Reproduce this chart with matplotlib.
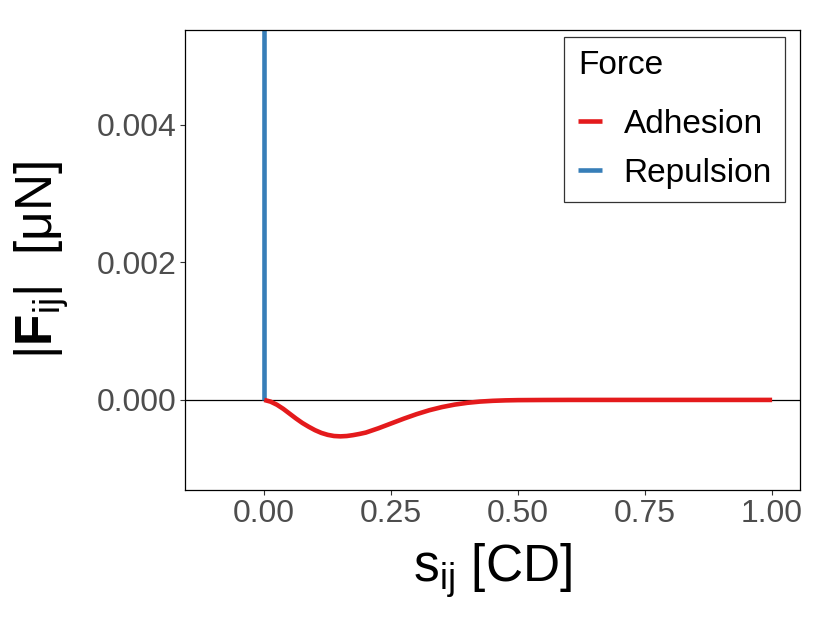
import matplotlib
matplotlib.use("Agg")
import matplotlib.pyplot as plt

plt.rcParams['font.family'] = ['Liberation Sans', 'DejaVu Sans']
plt.rcParams['mathtext.fontset'] = 'custom'
plt.rcParams['mathtext.rm'] = 'Liberation Sans'
plt.rcParams['mathtext.it'] = 'Liberation Sans:italic'
plt.rcParams['mathtext.bf'] = 'Liberation Sans:bold'

# adhesion force
adh_x = [0.0, 0.0125, 0.025, 0.0375, 0.05, 0.0625, 0.075, 0.0875, 0.1,
         0.1125, 0.125, 0.1375, 0.15, 0.1625, 0.175, 0.1875, 0.2, 0.225,
         0.25, 0.275, 0.3, 0.325, 0.35, 0.375, 0.4, 0.425, 0.45, 0.475,
         0.5, 0.55, 0.6, 0.7, 0.8, 0.9, 1.0]
adh_y = [0.0, -0.25e-4, -0.7e-4, -1.3e-4, -2.0e-4, -2.7e-4, -3.35e-4,
         -3.9e-4, -4.4e-4, -4.8e-4, -5.08e-4, -5.25e-4, -5.3e-4, -5.25e-4,
         -5.12e-4, -4.95e-4, -4.75e-4, -4.12e-4, -3.42e-4, -2.72e-4,
         -2.07e-4, -1.5e-4, -1.04e-4, -6.8e-5, -4.2e-5, -2.4e-5, -1.3e-5,
         -6.5e-6, -3e-6, -1e-6, 0.0, 0.0, 0.0, 0.0, 0.0]

# repulsion shoots up at contact
rep_x = [0.0, 0.0]
rep_y = [0.0, 0.008]

x_ticks = [0.0, 0.25, 0.5, 0.75, 1.0]
x_ticklabels = ["0.00", "0.25", "0.50", "0.75", "1.00"]
y_ticks = [0.0, 0.002, 0.004]
y_ticklabels = ["0.000", "0.002", "0.004"]

red = "#E41A1C"
blue = "#377EB8"

fig = plt.figure(figsize=(8.3, 6.23), dpi=100)
ax = fig.add_axes([0.2229, 0.2135, 0.741, 0.7383])

ax.axhline(0, color="black", lw=0.9, zorder=1)
ax.plot(adh_x, adh_y, color=red, lw=3.3, label="Adhesion", zorder=3,
        solid_capstyle="butt", solid_joinstyle="round")
ax.plot(rep_x, rep_y, color=blue, lw=3.3, label="Repulsion", zorder=2,
        solid_capstyle="butt")

ax.set_xlim(-0.156, 1.055)
ax.set_ylim(-0.00131, 0.00538)

ax.set_xticks(x_ticks)
ax.set_xticklabels(x_ticklabels)
ax.set_yticks(y_ticks)
ax.set_yticklabels(y_ticklabels)
ax.tick_params(axis="both", labelsize=23, labelcolor="#4D4D4D",
               color="#333333", length=3.3, width=0.8, pad=3)

for sp in ax.spines.values():
    sp.set_color("black")
    sp.set_linewidth(0.9)

ax.set_xlabel(r"$\mathrm{s_{ij}}$ [CD]", fontsize=37, labelpad=9)
ax.set_ylabel(r"$|\mathbf{F}_{\mathrm{ij}}|$  [μN]", fontsize=37, labelpad=18)

leg = ax.legend(title="Force", loc="upper right",
                bbox_to_anchor=(0.9756, 0.9848), borderaxespad=0,
                fontsize=24, title_fontsize=24, frameon=True, fancybox=False,
                handlelength=0.73, handletextpad=0.64, labelspacing=0.55,
                borderpad=0.4)
leg._legend_box.align = "left"
leg._legend_box.sep = 0.55 * 24 + 6.5  # extra gap under the title
leg.get_frame().set_edgecolor("black")
leg.get_frame().set_linewidth(0.9)

fig.savefig("out.png", dpi=100)
